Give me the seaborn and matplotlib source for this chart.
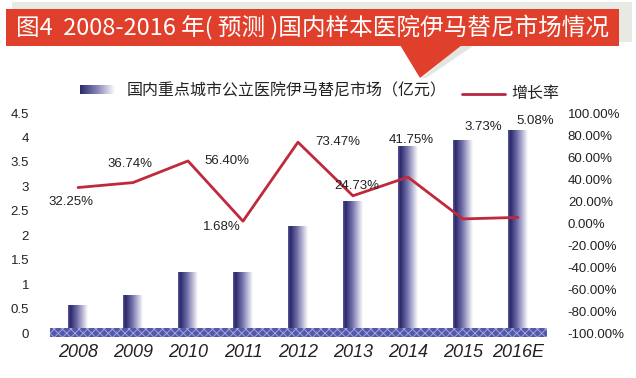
import numpy as np
import matplotlib
matplotlib.use('Agg')
import matplotlib.pyplot as plt
import seaborn as sns
from matplotlib.colors import LinearSegmentedColormap
from matplotlib.patches import Rectangle, Polygon

# data
years = ['2008', '2009', '2010', '2011', '2012', '2013', '2014', '2015', '2016E']
market = [0.57, 0.78, 1.24, 1.25, 2.18, 2.69, 3.83, 3.95, 4.16]   # 亿元
growth = [0.3225, 0.3674, 0.5640, 0.0168, 0.7347, 0.2473, 0.4175, 0.0373, 0.0508]
growth_labels = ['32.25%', '36.74%', '56.40%', '1.68%', '73.47%', '24.73%', '41.75%', '3.73%', '5.08%']
# label offsets from each point, in pixels (as placed in the original)
label_offsets = [(-7, -14), (-3, 19), (39, 0), (-21, -6), (40, 0), (4, 10), (3, 37), (20, 92), (17, 96)]
left_ticks = [0, 0.5, 1, 1.5, 2, 2.5, 3, 3.5, 4, 4.5]
right_ticks = [-1.0, -0.8, -0.6, -0.4, -0.2, 0.0, 0.2, 0.4, 0.6, 0.8, 1.0]

title = '图4  2008-2016 年( 预测 )国内样本医院伊马替尼市场情况'
bar_name = '国内重点城市公立医院伊马替尼市场（亿元）'
line_name = '增长率'

sns.set_theme(style='white')
plt.rcParams['font.family'] = ['Liberation Sans', 'Noto Sans CJK SC', 'DejaVu Sans']
plt.rcParams['hatch.linewidth'] = 0.7
cjk = ['Noto Sans CJK SC', 'DejaVu Sans']
text_col = '#222222'
line_col = '#c0283c'

fig = plt.figure(figsize=(6.36, 3.78), dpi=100)
ax = fig.add_axes([50 / 636, 45 / 378, 497 / 636, 220 / 378])

# bars with a dark-left to white-right gradient
sns.barplot(x=years, y=market, ax=ax, width=0.36, color='#2b2868')
bar_cmap = LinearSegmentedColormap.from_list(
    'bar', [(0, '#5a58a0'), (0.12, '#2b2868'), (0.45, '#6e6ca8'), (1, '#ffffff')])
grad = np.linspace(0, 1, 256).reshape(1, -1)
for p in list(ax.patches):
    x0, y0, w, h = p.get_x(), p.get_y(), p.get_width(), p.get_height()
    im = ax.imshow(grad, extent=[x0, x0 + w, y0, y0 + h], aspect='auto',
                   cmap=bar_cmap, zorder=2, interpolation='bilinear')
    im.set_clip_path(p)
    p.set_facecolor('none')
    p.set_edgecolor('none')

# patterned floor
ax.axhspan(-0.09, 0.1, facecolor='#5458a8', edgecolor='#a0a6dc', hatch='xxxx',
           linewidth=0, clip_on=False, zorder=3)

ax.set_xlim(-0.51, 8.53)
ax.set_ylim(0, 4.5)
ax.set_yticks(left_ticks)
ax.set_yticklabels([f'{v:g}' for v in left_ticks], fontsize=9.5, color=text_col)
ax.set_xticks(range(len(years)))
ax.set_xticklabels(years, fontsize=13, style='italic', color=text_col)
ax.tick_params(axis='y', length=0, pad=15)
ax.tick_params(axis='x', length=0, pad=8)
ax.set_xlabel('')
ax.set_ylabel('')
for s in ax.spines.values():
    s.set_visible(False)

# growth line on the right axis
ax2 = ax.twinx()
sns.lineplot(x=np.arange(len(years)), y=growth, ax=ax2, color=line_col, linewidth=2)
ax2.set_ylim(-1, 1)
ax2.set_yticks(right_ticks)
ax2.set_yticklabels([f'{v * 100:.2f}%' for v in right_ticks], fontsize=9.5, color=text_col)
ax2.tick_params(axis='y', length=0, pad=15)
for s in ax2.spines.values():
    s.set_visible(False)
for i, (lab, off) in enumerate(zip(growth_labels, label_offsets)):
    ax2.annotate(lab, (i, growth[i]), xytext=off, textcoords='offset pixels',
                 ha='center', va='center', fontsize=9.5, color=text_col)
ax.set_xlim(-0.51, 8.53)

# overlay for banner and legend, in pixel coordinates
ov = fig.add_axes([0, 0, 1, 1])
ov.patch.set_alpha(0)
ov.axis('off')
ov.add_patch(Rectangle((12, 2), 620, 40, facecolor='#e9e9e4', edgecolor='none'))
ov.add_patch(Polygon([(462, 44), (476, 44), (426, 78), (422, 78)], closed=True,
                     facecolor='#e4e4e0', edgecolor='none'))
ov.add_patch(Rectangle((6, 9), 613, 37, facecolor='#e0402b', edgecolor='none'))
ov.add_patch(Polygon([(400, 45), (462, 45), (420, 78)], closed=True,
                     facecolor='#e0402b', edgecolor='none'))
ov.text(16, 27.5, title, color='white', fontsize=17, ha='left', va='center', family=cjk)

leg_cmap = LinearSegmentedColormap.from_list('leg', ['#2b2868', '#8886b8', '#ffffff'])
ov.imshow(grad, extent=[80, 115, 94, 85], aspect='auto', cmap=leg_cmap, interpolation='bilinear')
ov.text(127, 91, bar_name, fontsize=11.5, ha='left', va='center', color=text_col, family=cjk)
ov.plot([462, 505], [94, 94], color='#b5283f', linewidth=2)
ov.text(511, 93, line_name, fontsize=11.5, ha='left', va='center', color=text_col, family=cjk)
ov.set_xlim(0, 636)
ov.set_ylim(378, 0)

fig.savefig('out.png', dpi=100)
